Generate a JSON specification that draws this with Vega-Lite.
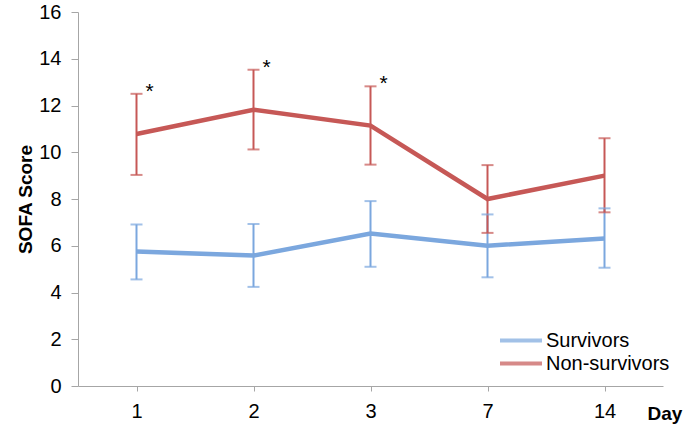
{
  "$schema": "https://vega.github.io/schema/vega-lite/v6.json",
  "width": 585,
  "height": 374,
  "autosize": {"type": "none"},
  "padding": {"left": 78, "top": 12, "right": 22, "bottom": 39},
  "background": "white",
  "config": {
    "view": {"stroke": null},
    "font": "Liberation Sans"
  },
  "datasets": {
    "sofa": [
      {"day": "1", "group": "Survivors", "mean": 5.75, "lo": 4.56, "hi": 6.91},
      {"day": "2", "group": "Survivors", "mean": 5.58, "lo": 4.24, "hi": 6.93},
      {"day": "3", "group": "Survivors", "mean": 6.52, "lo": 5.10, "hi": 7.91},
      {"day": "7", "group": "Survivors", "mean": 6.0, "lo": 4.65, "hi": 7.34},
      {"day": "14", "group": "Survivors", "mean": 6.31, "lo": 5.06, "hi": 7.6},
      {"day": "1", "group": "Non-survivors", "mean": 10.78, "lo": 9.03, "hi": 12.5},
      {"day": "2", "group": "Non-survivors", "mean": 11.82, "lo": 10.12, "hi": 13.53},
      {"day": "3", "group": "Non-survivors", "mean": 11.14, "lo": 9.47, "hi": 12.82},
      {"day": "7", "group": "Non-survivors", "mean": 8.0, "lo": 6.55, "hi": 9.45},
      {"day": "14", "group": "Non-survivors", "mean": 9.0, "lo": 7.43, "hi": 10.6}
    ],
    "stars": [
      {"day": "1", "pos": 12.5, "label": "*"},
      {"day": "2", "pos": 13.53, "label": "*"},
      {"day": "3", "pos": 12.82, "label": "*"}
    ]
  },
  "encoding": {
    "x": {
      "field": "day",
      "type": "ordinal",
      "sort": ["1", "2", "3", "7", "14"],
      "scale": {"type": "point", "padding": 0.5},
      "axis": {
        "title": "Day",
        "titleFontSize": 19,
        "titleFontWeight": "bold",
        "titleColor": "black",
        "titleAngle": 0,
        "titleAlign": "left",
        "titleBaseline": "middle",
        "titleX": 569,
        "titleY": 27,
        "labelAngle": 0,
        "labelFontSize": 20,
        "labelColor": "black",
        "labelPadding": 10,
        "tickSize": 5,
        "tickColor": "#a6a6a6",
        "domainColor": "#a6a6a6",
        "grid": false
      }
    }
  },
  "layer": [
    {
      "data": {"name": "sofa"},
      "mark": {"type": "rule", "strokeWidth": 2},
      "encoding": {
        "y": {"field": "lo", "type": "quantitative"},
        "y2": {"field": "hi"},
        "color": {
          "field": "group",
          "type": "nominal",
          "scale": {"domain": ["Survivors", "Non-survivors"], "range": ["#7ba7de", "#c65856"]},
          "legend": {
            "title": null,
            "orient": "none",
            "legendX": 441,
            "legendY": 316,
            "symbolType": "M-3,0H1",
            "symbolStrokeWidth": 4,
            "symbolOpacity": 1,
            "symbolSize": 441,
            "labelFontSize": 20,
            "labelColor": "black",
            "labelOffset": 2,
            "rowPadding": 0
          }
        }
      }
    },
    {
      "data": {"name": "sofa"},
      "mark": {"type": "tick", "thickness": 2, "size": 12},
      "encoding": {
        "y": {"field": "lo", "type": "quantitative"},
        "color": {"field": "group", "type": "nominal"}
      }
    },
    {
      "data": {"name": "sofa"},
      "mark": {"type": "tick", "thickness": 2, "size": 12},
      "encoding": {
        "y": {"field": "hi", "type": "quantitative"},
        "color": {"field": "group", "type": "nominal"}
      }
    },
    {
      "data": {"name": "sofa"},
      "mark": {"type": "line", "strokeWidth": 4.5},
      "encoding": {
        "y": {
          "field": "mean",
          "type": "quantitative",
          "scale": {"domain": [0, 16], "nice": false, "zero": true},
          "axis": {
            "title": "SOFA Score",
            "titleFontSize": 19,
            "titleFontWeight": "bold",
            "titleColor": "black",
            "titlePadding": 3,
            "values": [0, 2, 4, 6, 8, 10, 12, 14, 16],
            "labelFontSize": 20,
            "labelColor": "black",
            "labelPadding": 10,
            "tickSize": 7,
            "tickColor": "#a6a6a6",
            "domainColor": "#a6a6a6",
            "grid": false
          }
        },
        "color": {"field": "group", "type": "nominal"}
      }
    },
    {
      "data": {"name": "stars"},
      "mark": {"type": "text", "fontSize": 21, "dx": 13, "dy": -2, "baseline": "middle", "align": "center"},
      "encoding": {
        "y": {"field": "pos", "type": "quantitative"},
        "text": {"field": "label"},
        "color": {"value": "black"}
      }
    }
  ]
}
